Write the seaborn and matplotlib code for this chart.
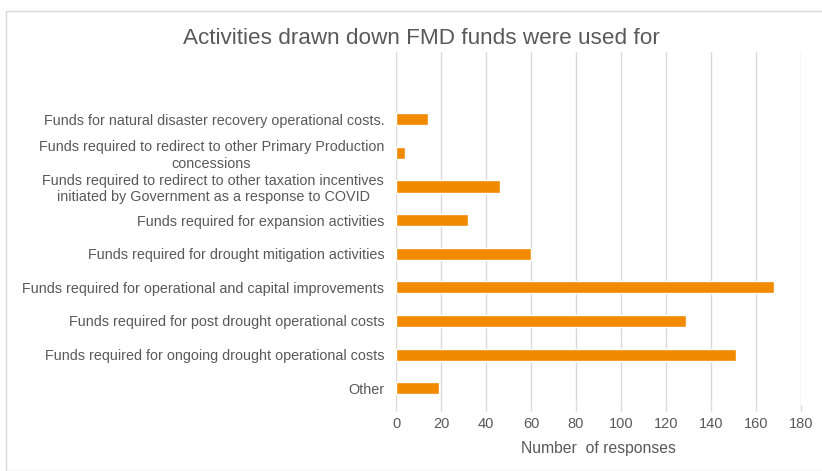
import matplotlib
matplotlib.use("Agg")
import matplotlib.pyplot as plt
import seaborn as sns
import pandas as pd
from matplotlib.patches import Rectangle

# Data (top to bottom)
activities = [
    "Funds for natural disaster recovery operational costs.",
    "Funds required to redirect to other Primary Production\nconcessions",
    "Funds required to redirect to other taxation incentives\ninitiated by Government as a response to COVID",
    "Funds required for expansion activities",
    "Funds required for drought mitigation activities",
    "Funds required for operational and capital improvements",
    "Funds required for post drought operational costs",
    "Funds required for ongoing drought operational costs",
    "Other",
]
responses = [14, 4, 46, 32, 60, 168, 129, 151, 19]
x_ticks = [0, 20, 40, 60, 80, 100, 120, 140, 160, 180]

df = pd.DataFrame({"activity": activities, "responses": responses})

sns.set_theme(style="white")
plt.rcParams['font.family'] = ['Liberation Sans', 'DejaVu Sans']

text_col = "#595959"
grid_col = "#D9D9D9"

fig = plt.figure(figsize=(8.22, 4.71), dpi=100)
ax = fig.add_axes([396 / 822, 1 - 405 / 471, (801 - 396) / 822, (405 - 52) / 471])

sns.barplot(data=df, x="responses", y="activity", orient="h",
            color="#F28A00", saturation=1, width=0.36, ax=ax)

ax.set_xlim(0, 180)
ax.set_ylim(8.5, -2.0)
ax.set_xticks(x_ticks)
ax.xaxis.grid(True, color=grid_col, linewidth=1)
ax.set_axisbelow(True)
for s in ax.spines.values():
    s.set_visible(False)

ax.tick_params(axis="x", colors=grid_col, labelcolor=text_col, labelsize=10.5,
               length=4, width=1, pad=5, bottom=True)
ax.tick_params(axis="y", length=0, labelcolor=text_col, labelsize=10.4, pad=8.5)
for lbl in ax.get_yticklabels():
    lbl.set_multialignment("center")

ax.set_ylabel("")
ax.set_xlabel("Number  of responses", color=text_col, fontsize=11.3, labelpad=7)

fig.text(421 / 822, 1 - 38 / 471, "Activities drawn down FMD funds were used for",
         ha="center", va="center", fontsize=16.2, color=text_col)

fig.patches.append(Rectangle((6 / 822, 0.5 / 471), 1.2, 1 - 11.5 / 471,
                             transform=fig.transFigure, fill=False,
                             edgecolor=grid_col, linewidth=1))

fig.savefig("out.png", dpi=100, facecolor="white")
